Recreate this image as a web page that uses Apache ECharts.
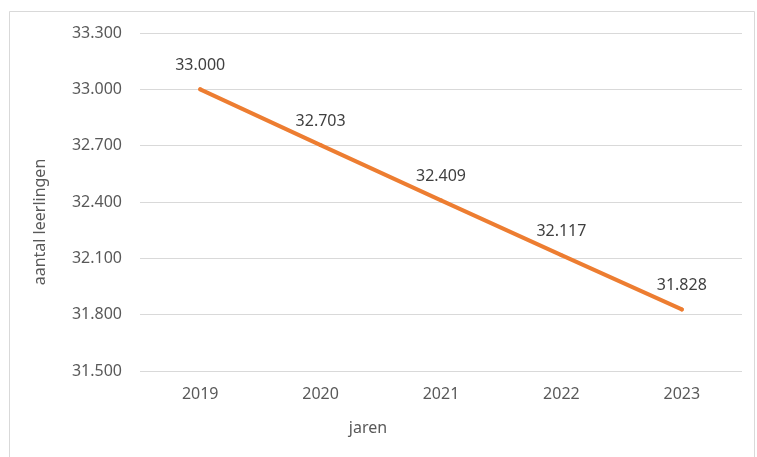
<!DOCTYPE html>
<html>
<head>
<meta charset="utf-8">
<script src="https://cdn.jsdelivr.net/npm/echarts@6/dist/echarts.min.js"></script>
<style>
html,body{margin:0;padding:0;background:#fff;}
#c{width:757px;height:457px;}
</style>
</head>
<body>
<div id="c"></div>
<script>
var categories = ['2019', '2020', '2021', '2022', '2023'];
var values = [33000, 32703, 32409, 32117, 31828];
var yMin = 31500, yMax = 33300, yStep = 300;
var xTitle = 'jaren';
var yTitle = 'aantal leerlingen';

function fmt(v) {
  return String(Math.round(v)).replace(/\B(?=(\d{3})+(?!\d))/g, '.');
}
var FONT = '"Noto Sans", sans-serif';
var chart = echarts.init(document.getElementById('c'), null, {renderer: 'canvas'});
chart.setOption({
  animation: false,
  backgroundColor: '#fff',
  grid: {left: 140, right: 15, top: 33, bottom: 86, containLabel: false},
  graphic: [
    {type: 'rect', shape: {x: 9.5, y: 11.5, width: 745, height: 460}, style: {fill: 'none', stroke: '#d9d9d9', lineWidth: 1}, silent: true},
    {type: 'text', x: 368, y: 428, style: {text: xTitle, fill: '#595959', font: '16px ' + FONT, align: 'center', verticalAlign: 'middle'}},
    {type: 'text', x: 40, y: 222, rotation: Math.PI / 2, style: {text: yTitle, fill: '#595959', font: '16px ' + FONT, align: 'center', verticalAlign: 'middle'}}
  ],
  xAxis: {
    type: 'category',
    data: categories,
    boundaryGap: true,
    axisLine: {show: false},
    axisTick: {show: false},
    axisLabel: {color: '#595959', fontSize: 16, fontFamily: FONT, margin: 15}
  },
  yAxis: {
    type: 'value',
    min: yMin, max: yMax, interval: yStep,
    axisLine: {show: false},
    axisTick: {show: false},
    splitLine: {lineStyle: {color: '#d9d9d9', width: 1}},
    axisLabel: {color: '#595959', fontSize: 16, fontFamily: FONT, margin: 18, formatter: fmt}
  },
  series: [{
    type: 'line',
    data: values,
    showSymbol: true,
    symbol: 'circle',
    symbolSize: 4,
    itemStyle: {color: '#ED7D31', borderWidth: 0},
    lineStyle: {color: '#ED7D31', width: 4, cap: 'round'},
    label: {show: true, position: 'top', distance: 14, color: '#404040', fontSize: 16, fontFamily: FONT, formatter: function (p) { return fmt(p.value); }}
  }]
});
</script>
</body>
</html>
